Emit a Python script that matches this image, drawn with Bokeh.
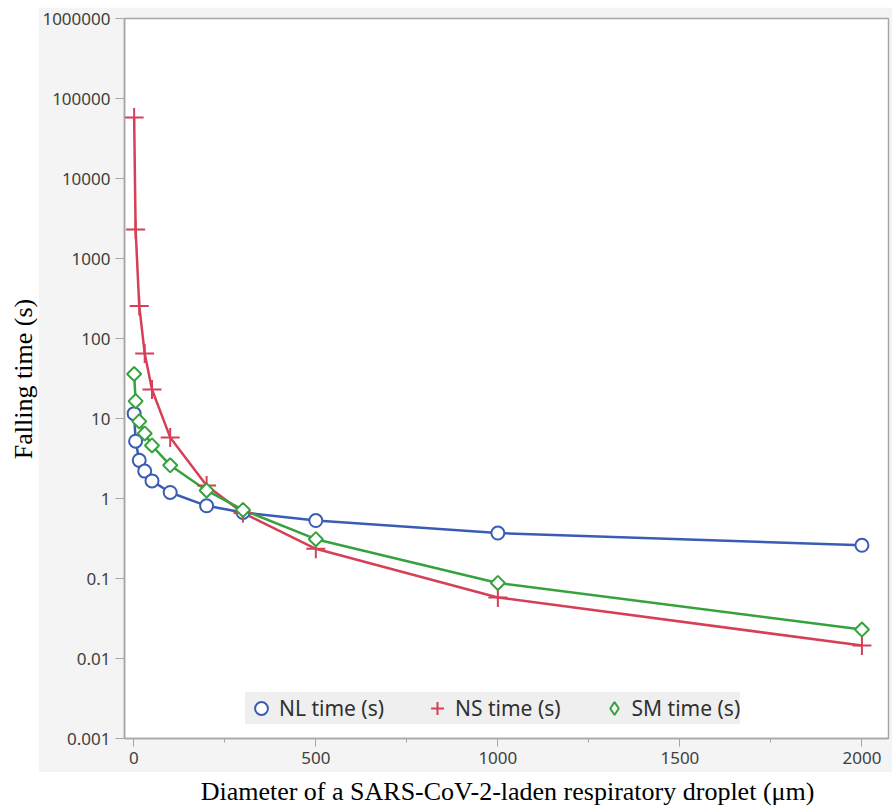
import math
from bokeh.plotting import figure
from bokeh.models import (Range1d, FixedTicker, CustomJSTickFormatter, Legend,
                          LegendItem, Label, Spacer)
from bokeh.layouts import column, row
from bokeh.embed import file_html
from bokeh.resources import INLINE

# ---- data ----
diameter = [1, 5, 15, 30, 50, 100, 200, 300, 500, 1000, 2000]
nl_time = [11.5, 5.2, 3.0, 2.2, 1.66, 1.19, 0.81, 0.67, 0.53, 0.37, 0.26]
ns_time = [58000, 2300, 255, 65, 23, 5.8, 1.45, 0.66, 0.235, 0.058, 0.0145]
sm_time = [36, 16.5, 9.2, 6.5, 4.6, 2.6, 1.26, 0.72, 0.31, 0.088, 0.023]

y_ticks = [0.001, 0.01, 0.1, 1, 10, 100, 1000, 10000, 100000, 1000000]
x_ticks = [0, 500, 1000, 1500, 2000]
x_minor = [250, 750, 1250, 1750]

series_labels = ["NL time (s)", "NS time (s)", "SM time (s)"]
x_title = "Diameter of a SARS-CoV-2-laden respiratory droplet (\u03bcm)"
y_title = "Falling time (s)"

BLUE = "#3a5cb4"
RED = "#d53f58"
GREEN = "#36a23c"
PANEL = "#f4f4f4"
AXIS = "#a6a6a6"
TICKTXT = "#404040"

X_MIN, X_MAX = -25.5, 2073
Y_MIN, Y_MAX = 0.001, 1e6

# ---- main plot ----
p = figure(width=854, height=765,
           x_range=Range1d(X_MIN, X_MAX), y_range=Range1d(Y_MIN, Y_MAX),
           y_axis_type="log", output_backend="svg", toolbar_location=None,
           min_border_left=86, min_border_right=4, min_border_top=11,
           min_border_bottom=34)
p.background_fill_color = "white"
p.border_fill_color = PANEL
p.outline_line_color = AXIS
p.outline_line_width = 1.5
p.grid.visible = False

p.yaxis.ticker = FixedTicker(ticks=y_ticks, minor_ticks=[])
p.yaxis.formatter = CustomJSTickFormatter(
    code="return String(Number(tick.toPrecision(6)));")
p.xaxis.ticker = FixedTicker(ticks=x_ticks, minor_ticks=x_minor)

for ax in (p.xaxis[0], p.yaxis[0]):
    ax.axis_line_color = AXIS
    ax.axis_line_width = 1.5
    ax.major_tick_line_color = AXIS
    ax.minor_tick_line_color = AXIS
    ax.major_tick_in = 0
    ax.minor_tick_in = 0
    ax.major_label_text_font = "Noto Sans"
    ax.major_label_text_font_size = "17px"
    ax.major_label_text_color = TICKTXT
p.yaxis.major_tick_out = 9
p.yaxis.major_label_standoff = 5
p.xaxis.major_tick_out = 8
p.xaxis.minor_tick_out = 4
p.xaxis.major_label_standoff = 5

# lines
p.line(diameter, nl_time, line_color=BLUE, line_width=2.5)
p.line(diameter, ns_time, line_color=RED, line_width=2.5)
p.line(diameter, sm_time, line_color=GREEN, line_width=2.5)

# markers
r_nl = p.scatter(diameter, nl_time, marker="circle", size=13,
                 line_color=BLUE, line_width=2, fill_color="white")
r_ns = p.scatter(diameter, ns_time, marker="cross", size=19,
                 line_color=RED, line_width=2)
r_sm = p.scatter(diameter, sm_time, marker="square", size=10, angle=math.pi / 4,
                 line_color=GREEN, line_width=2, fill_color="white")
# legend proxy for the diamond symbol (its one point lies outside the frame)
r_sm_leg = p.scatter(x=[X_MIN - 1000], y=[Y_MAX * 1000], marker="diamond",
                     size=17, line_color=GREEN, line_width=2,
                     fill_color="white")

legend = Legend(items=[LegendItem(label=series_labels[0], renderers=[r_nl]),
                       LegendItem(label=series_labels[1], renderers=[r_ns]),
                       LegendItem(label=series_labels[2], renderers=[r_sm_leg])],
                orientation="horizontal", location=(121, 14))
legend.background_fill_color = "#efefef"
legend.background_fill_alpha = 1
legend.border_line_color = None
legend.label_text_font = "Noto Sans"
legend.label_text_font_size = "21px"
legend.label_text_color = "#303030"
legend.glyph_width = 32
legend.glyph_height = 32
legend.label_standoff = 2
legend.spacing = 37
legend.padding = 3
legend.margin = 0
p.add_layout(legend, "center")

# ---- y title strip ----
yf = figure(width=38, height=765, x_range=Range1d(0, 38), y_range=Range1d(0, 765),
            output_backend="svg", toolbar_location=None,
            x_axis_location=None, y_axis_location=None, min_border=0)
yf.grid.visible = False
yf.outline_line_color = None
yf.background_fill_color = "white"
yf.border_fill_color = "white"
yf.add_layout(Label(x=23, y=382, text=y_title, angle=math.pi / 2,
                    text_align="center", text_baseline="middle",
                    text_font="Liberation Serif", text_font_size="26px",
                    text_color="black"))

# ---- x title strip ----
xf = figure(width=892, height=35, x_range=Range1d(0, 892), y_range=Range1d(0, 35),
            output_backend="svg", toolbar_location=None,
            x_axis_location=None, y_axis_location=None, min_border=0)
xf.grid.visible = False
xf.outline_line_color = None
xf.background_fill_color = "white"
xf.border_fill_color = "white"
xf.add_layout(Label(x=507, y=16.5, text=x_title, text_align="center",
                    text_baseline="middle", text_font="Liberation Serif",
                    text_font_size="26px", text_color="black"))

layout = column(Spacer(width=892, height=7), row(yf, p), xf)
open("out.html", "w").write(file_html(layout, INLINE))
